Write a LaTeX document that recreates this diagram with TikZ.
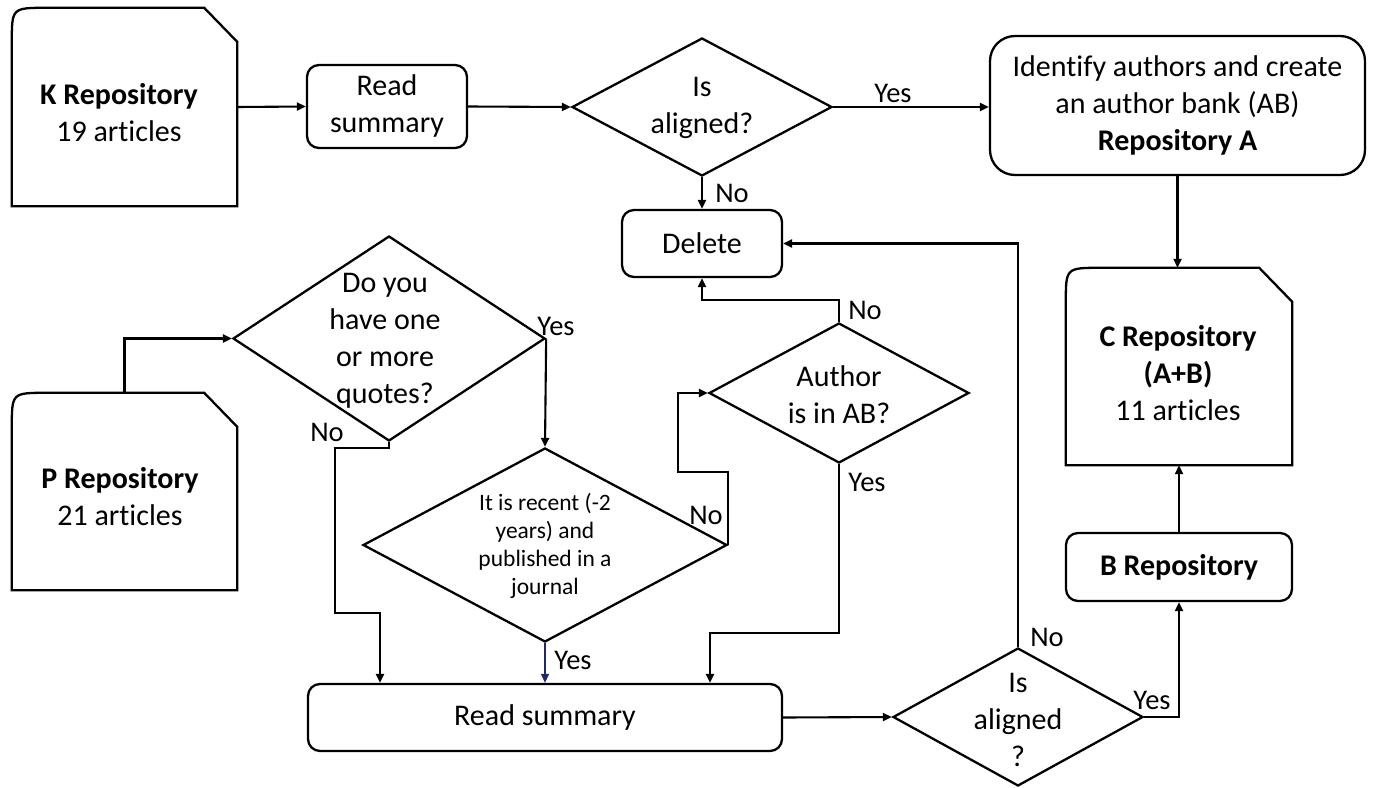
\documentclass[tikz,border=0pt]{standalone}
\usepackage{fontspec}
\setmainfont{Carlito}[Ligatures=NoCommon]
\usetikzlibrary{shapes.geometric,arrows.meta,calc}
\definecolor{arrnavy}{RGB}{30,40,110}
\newcommand\fMain{\fontsize{30}{37}\selectfont}
\newcommand\fSmall{\fontsize{23.5}{28}\selectfont}
\newcommand\fLab{\fontsize{28.5}{34}\selectfont}
\newcommand\reposhape[1]{%
  \draw[shp] (#1.south west) -- ($(#1.north west)+(0,35)$) .. controls (#1.north west) .. ($(#1.north west)+(35,0)$)
    -- ($(#1.north east)+(-33,0)$) -- ($(#1.north east)+(0,34)$) -- (#1.south east) -- cycle;}
\begin{document}
\begin{tikzpicture}[x=1pt,y=-1pt,
  shp/.style={line width=2.3pt, draw=black},
  box/.style={shp, rounded corners=12pt, align=center, inner sep=0pt, font=\fMain},
  repo/.style={rectangle, inner sep=0pt, minimum width=225pt, minimum height=198pt},
  dia/.style={shp, diamond, inner sep=0pt},
  txt/.style={align=center, inner sep=0pt, font=\fMain},
  lab/.style={inner sep=0pt, font=\fLab},
  arr/.style={line width=2.1pt, -{Triangle[length=9pt,width=8pt]}},
  ln/.style={line width=2.1pt}]
\useasboundingbox[fill=white] (0,0) rectangle (1373,787);

% nodes
\node[repo] (K) at (124.5,107) {};
\reposhape{K}
\node[txt] (Kt) at (119,113) {\textbf{K Repository}\\19 articles};

\node[box, minimum width=160pt, minimum height=83pt] (RS1) at (387,106.5) {Read\\summary};

\node[dia, minimum width=260pt, minimum height=138pt] (D1) at (702,107) {};
\node[txt] (D1t) at (702,108) {Is\\aligned?};

\node[box, rounded corners=25pt, minimum width=375pt, minimum height=139pt] (A) at (1177.5,105.5)
  {Identify authors and create\\an author bank (AB)\\\textbf{Repository A}};

\node[repo, minimum width=226pt, minimum height=197pt] (C) at (1179,366.5) {};
\reposhape{C}
\node[txt] (Ct) at (1178,373) {\textbf{C Repository}\\\textbf{(A+B)}\\11 articles};

\node[box, minimum width=160pt, minimum height=67pt] (Del) at (702,243.5) {Delete};

\node[dia, minimum width=312pt, minimum height=205pt] (D2) at (389,338.5) {};
\node[txt] (D2t) at (385,341) {Do you\\have one\\or more\\quotes?};

\node[repo, minimum width=225pt, minimum height=197pt] (P) at (124.5,491.5) {};
\reposhape{P}
\node[txt] (Pt) at (120,497) {\textbf{P Repository}\\21 articles};

\node[dia, minimum width=260pt, minimum height=140pt] (D3) at (839,393) {};
\node[txt] (D3t) at (839,395) {Author\\is in AB?};

\node[dia, minimum width=364pt, minimum height=194pt] (D4) at (545,545) {};
\node[txt, font=\fSmall] (D4t) at (545,545.5) {It is recent (-2\\years) and\\published in a\\journal};

\node[box, minimum width=474pt, minimum height=67pt] (RS2) at (545,717.5) {Read summary};

\node[dia, minimum width=250pt, minimum height=138pt] (D5) at (1018,717) {};
\node[txt] (D5t) at (1018,720) {Is\\aligned\\?};

\node[box, minimum width=226pt, minimum height=68pt, font=\fMain\bfseries] (B) at (1179,567) {B Repository};

% connectors
\draw[arr] (K.east) -- (RS1.west);
\draw[arr] (RS1.east) -- (D1.west);
\draw[arr] (D1.east) -- (D1.east -| A.west);
\draw[arr] (D1.south) -- (Del.north);
\draw[arr] (A.south) -- (A.south |- C.north);
\draw[arr] (P.north) |- (D2.west);
\draw[arr] (D2.east) -- (D4.north);
\draw[arr] (D2.south) -- ++(0,6) -| (335,613) -| ([xshift=-165pt]RS2.north);
\draw[line width=1.2pt, draw=arrnavy, -{Triangle[length=9pt,width=8pt]}, arrnavy] (D4.south) -- (RS2.north);
\draw[arr] (D4.east) |- (678,472) |- (D3.west);
\draw[arr] (D3.north) -- ++(0,-22) -| (Del.south);
\draw[arr] (D3.south) -- (839,633) -| ([xshift=165pt]RS2.north);
\draw[arr] (RS2.east) -- (D5.west);
\draw[arr] (D5.north) |- (Del.east);
\draw[arr] (D5.east) -| (B.south);
\draw[arr] (B.north) -- (C.south);

% labels
\node[lab] (l1) at (893,93) {Yes};
\node[lab] (l2) at (732,193) {No};
\node[lab] (l3) at (556,326) {Yes};
\node[lab] (l4) at (327,432) {No};
\node[lab] (l5) at (706,515) {No};
\node[lab] (l6) at (865,310) {No};
\node[lab] (l7) at (867,482) {Yes};
\node[lab] (l8) at (573,660) {Yes};
\node[lab] (l9) at (1047,637) {No};
\node[lab] (l10) at (1152,700) {Yes};
\end{tikzpicture}
\end{document}
